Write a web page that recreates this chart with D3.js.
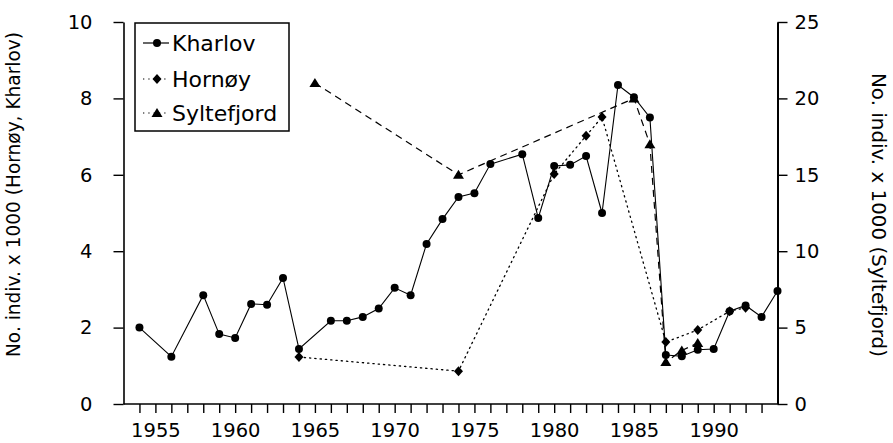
<!DOCTYPE html>
<html>
<head>
<meta charset="utf-8">
<script src="https://cdn.jsdelivr.net/npm/d3@7"></script>
<style>
  html, body { margin: 0; padding: 0; background: #fff; }
  svg { display: block; }
  text { font-family: "DejaVu Sans", sans-serif; fill: #000; }
</style>
</head>
<body>
<svg id="chart" width="893" height="443"></svg>
<script>
// ---- Data ----
const kharlovYears = [1954,1956,1958,1959,1960,1961,1962,1963,1964,1966,1967,1968,1969,1970,1971,1972,1973,1974,1975,1976,1978,1979,1980,1981,1982,1983,1984,1985,1986,1987,1988,1989,1990,1991,1992,1993,1994];
const kharlovValues = [2.0,1.24,2.85,1.83,1.73,2.62,2.6,3.3,1.44,2.18,2.18,2.28,2.5,3.04,2.85,4.19,4.84,5.42,5.52,6.28,6.54,4.87,6.23,6.26,6.49,5.0,8.35,8.03,7.5,1.28,1.25,1.42,1.44,2.43,2.58,2.28,2.96];

const hornoyYears = [1964,1974,1980,1982,1983,1987,1989,1991,1992];
const hornoyValues = [1.23,0.86,6.02,7.02,7.51,1.62,1.94,2.43,2.52];

const syltefjordYears = [1965,1974,1985,1986,1987,1988,1989];
const syltefjordValues = [21.0,15.0,20.0,17.0,2.75,3.5,4.0];

const leftTicks = [0,2,4,6,8,10];
const rightTicks = [0,5,10,15,20,25];
const yearTicks = d3.range(1954, 1994);
const yearLabels = [1955,1960,1965,1970,1975,1980,1985,1990];

const seriesNames = ["Kharlov","Hornøy","Syltefjord"];
const leftTitle = "No. indiv. x 1000 (Hornøy, Kharlov)";
const rightTitle = "No. indiv. x 1000 (Syltefjord)";

// ---- Layout ----
const svg = d3.select("#chart");
const x = d3.scaleLinear().domain([1953, 1994]).range([123.5, 777.5]);
const yL = d3.scaleLinear().domain([0, 10]).range([404, 22]);
const yR = d3.scaleLinear().domain([0, 25]).range([404, 22]);

// Axes
const gx = svg.append("g").attr("transform", "translate(0,404)")
  .call(d3.axisBottom(x).tickValues(yearTicks).tickSize(9).tickPadding(10)
    .tickFormat(d => yearLabels.includes(d) ? String(d) : "").tickSizeOuter(0));
const gl = svg.append("g").attr("transform", "translate(123.5,0)")
  .call(d3.axisLeft(yL).tickValues(leftTicks).tickSize(10).tickPadding(21).tickSizeOuter(0));
const gr = svg.append("g").attr("transform", "translate(777.5,0)")
  .call(d3.axisRight(yR).tickValues(rightTicks).tickSize(10).tickPadding(7).tickSizeOuter(0));

[gx, gl, gr].forEach(g => {
  g.selectAll("path.domain").attr("stroke", "#000").attr("stroke-width", 1.6);
  g.selectAll(".tick line").attr("stroke", "#000").attr("stroke-width", 1.4);
  g.selectAll(".tick text").attr("font-family", "DejaVu Sans, sans-serif").attr("font-size", 19.5).attr("fill", "#000");
});
gr.select("path.domain").attr("stroke-width", 2);
gx.select("path.domain").attr("d", `M${x(1953)},0H${x(1994)}`);

// Axis titles
svg.append("text")
  .attr("transform", "translate(20,194.5) rotate(-90)")
  .attr("text-anchor", "middle").attr("font-size", 19)
  .attr("textLength", 325).attr("lengthAdjust", "spacingAndGlyphs")
  .text(leftTitle);
svg.append("text")
  .attr("transform", "translate(872,215) rotate(90)")
  .attr("text-anchor", "middle").attr("font-size", 19)
  .attr("textLength", 284).attr("lengthAdjust", "spacingAndGlyphs")
  .text(rightTitle);

// ---- Series ----
const kh = kharlovYears.map((yr, i) => [yr, kharlovValues[i]]);
const ho = hornoyYears.map((yr, i) => [yr, hornoyValues[i]]);
const sy = syltefjordYears.map((yr, i) => [yr, syltefjordValues[i]]);

const lineL = d3.line().x(d => x(d[0])).y(d => yL(d[1]));
const lineR = d3.line().x(d => x(d[0])).y(d => yR(d[1]));

svg.append("path").datum(sy).attr("d", lineR)
  .attr("fill", "none").attr("stroke", "#000").attr("stroke-width", 1.2)
  .attr("stroke-dasharray", "7,5");
svg.append("path").datum(ho).attr("d", lineL)
  .attr("fill", "none").attr("stroke", "#000").attr("stroke-width", 1.3)
  .attr("stroke-dasharray", "1.3,4").attr("stroke-linecap", "round");
svg.append("path").datum(kh).attr("d", lineL)
  .attr("fill", "none").attr("stroke", "#000").attr("stroke-width", 1.1);

const diamond = "M0,-5L4.5,0L0,5L-4.5,0Z";
const triangle = "M0,-5L5.5,4L-5.5,4Z";

svg.append("g").selectAll("path").data(sy).join("path")
  .attr("d", triangle)
  .attr("transform", d => `translate(${x(d[0])},${yR(d[1])})`)
  .attr("fill", "#000");
svg.append("g").selectAll("path").data(ho).join("path")
  .attr("d", diamond)
  .attr("transform", d => `translate(${x(d[0])},${yL(d[1])})`)
  .attr("fill", "#000");
svg.append("g").selectAll("circle").data(kh).join("circle")
  .attr("cx", d => x(d[0])).attr("cy", d => yL(d[1])).attr("r", 4)
  .attr("fill", "#000");

// ---- Legend ----
const lg = svg.append("g");
lg.append("rect").attr("x", 135).attr("y", 23).attr("width", 154).attr("height", 108)
  .attr("fill", "#fff").attr("stroke", "#000").attr("stroke-width", 1.5);
const rowsY = [43, 79, 113];
const dashes = [null, "1.3,4", "1.3,4"];
seriesNames.forEach((name, i) => {
  const yy = rowsY[i];
  lg.append("line").attr("x1", 143).attr("x2", 169).attr("y1", yy).attr("y2", yy)
    .attr("stroke", "#000").attr("stroke-width", 1.2)
    .attr("stroke-dasharray", dashes[i]);
  if (i === 0) lg.append("circle").attr("cx", 157).attr("cy", yy).attr("r", 4).attr("fill", "#000");
  if (i === 1) lg.append("path").attr("d", diamond).attr("transform", `translate(157,${yy})`).attr("fill", "#000");
  if (i === 2) lg.append("path").attr("d", triangle).attr("transform", `translate(157,${yy})`).attr("fill", "#000");
  lg.append("text").attr("x", 172).attr("y", yy).attr("dy", "0.36em")
    .attr("font-size", 22).text(name);
});
</script>
</body>
</html>
